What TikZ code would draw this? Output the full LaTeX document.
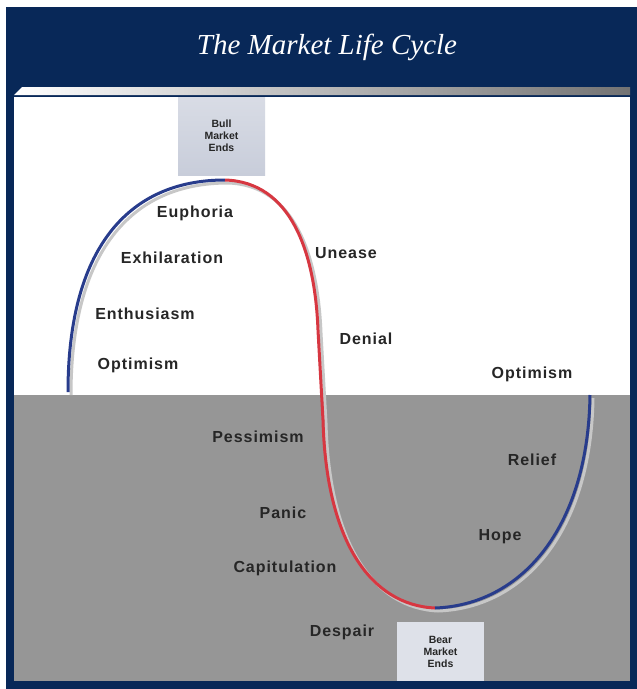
\documentclass[tikz,border=0pt]{standalone}
\usepackage{fontspec}
\setmainfont{Liberation Sans}
\newfontfamily\titlefont{Liberation Serif}
\usetikzlibrary{shapes.geometric}
\definecolor{navy}{RGB}{8,40,88}
\definecolor{bearfill}{RGB}{150,150,150}
\definecolor{bluecurve}{RGB}{40,60,140}
\definecolor{redcurve}{RGB}{215,55,65}
\definecolor{boxfill}{RGB}{200,205,218}

\begin{document}
\begin{tikzpicture}
[x=1pt, y=-1pt, every node/.style={inner sep=0pt},
 phase/.style={font=\fontsize{16}{18}\selectfont\bfseries\addfontfeature{LetterSpace=6}, text=black!85},
 endbox/.style={rectangle, fill=boxfill, text=black!85, align=center, font=\fontsize{10.5}{12}\selectfont\bfseries}]
\useasboundingbox (0,0) rectangle (637,689);
\fill [white] (0,0) rectangle (637,689);
\fill [navy] (6,7) rectangle (637,689);
\fill [white] (14,97) rectangle (630,395);
\fill [bearfill] (14,395) rectangle (630,681);
\shade [left color=white, right color=black!55] (22,87) -- (630,87) -- (630,95) -- (14,95) -- cycle;
\node (title) [text=white, font=\titlefont\itshape\fontsize{29}{33}\selectfont] at (327,47) {The Market Life Cycle};
\node (bull) [endbox, minimum width=87pt, minimum height=78pt, top color=boxfill!70, bottom color=boxfill] at (221.5,136) {Bull\\Market\\Ends};
\node (bear) [endbox, minimum width=87pt, minimum height=59pt, fill=boxfill!60] at (440.5,651.5) {Bear\\Market\\Ends};
\coordinate (start) at (68,392);
\coordinate (top) at (225,180);
\coordinate (bottom) at (435,608);
\coordinate (finish) at (590,395);
\draw [line width=3pt, color=black!22] (start) ++(3,3) .. controls (71,253) and (130,183) .. (228,183) .. controls (294,185) and (318,255) .. (321,333) -- (326,423) .. controls (329,543) and (373,608) .. (438,611) .. controls (523,608) and (591,533) .. (593,398);
\draw [line width=3pt, color=bluecurve] (start) .. controls (68,250) and (127,180) .. (top);
\draw [line width=3pt, color=redcurve] (top) .. controls (291,182) and (315,252) .. (318,330) -- (323,420) .. controls (326,540) and (370,605) .. (bottom);
\draw [line width=3pt, color=bluecurve] (bottom) .. controls (520,605) and (588,530) .. (finish);
\node (euphoria) [phase] at (195,213) {Euphoria};
\node (exhilaration) [phase] at (172,258) {Exhilaration};
\node (enthusiasm) [phase] at (145,314) {Enthusiasm};
\node (optimism1) [phase] at (138,365) {Optimism};
\node (unease) [phase] at (346,253) {Unease};
\node (denial) [phase] at (366,339) {Denial};
\node (optimism2) [phase] at (532,374) {Optimism};
\node (pessimism) [phase] at (258,437) {Pessimism};
\node (relief) [phase] at (532,460) {Relief};
\node (panic) [phase] at (283,513) {Panic};
\node (hope) [phase] at (500,537) {Hope};
\node (capitulation) [phase] at (285,568) {Capitulation};
\node (despair) [phase] at (342,632) {Despair};
\end{tikzpicture}
\end{document}
